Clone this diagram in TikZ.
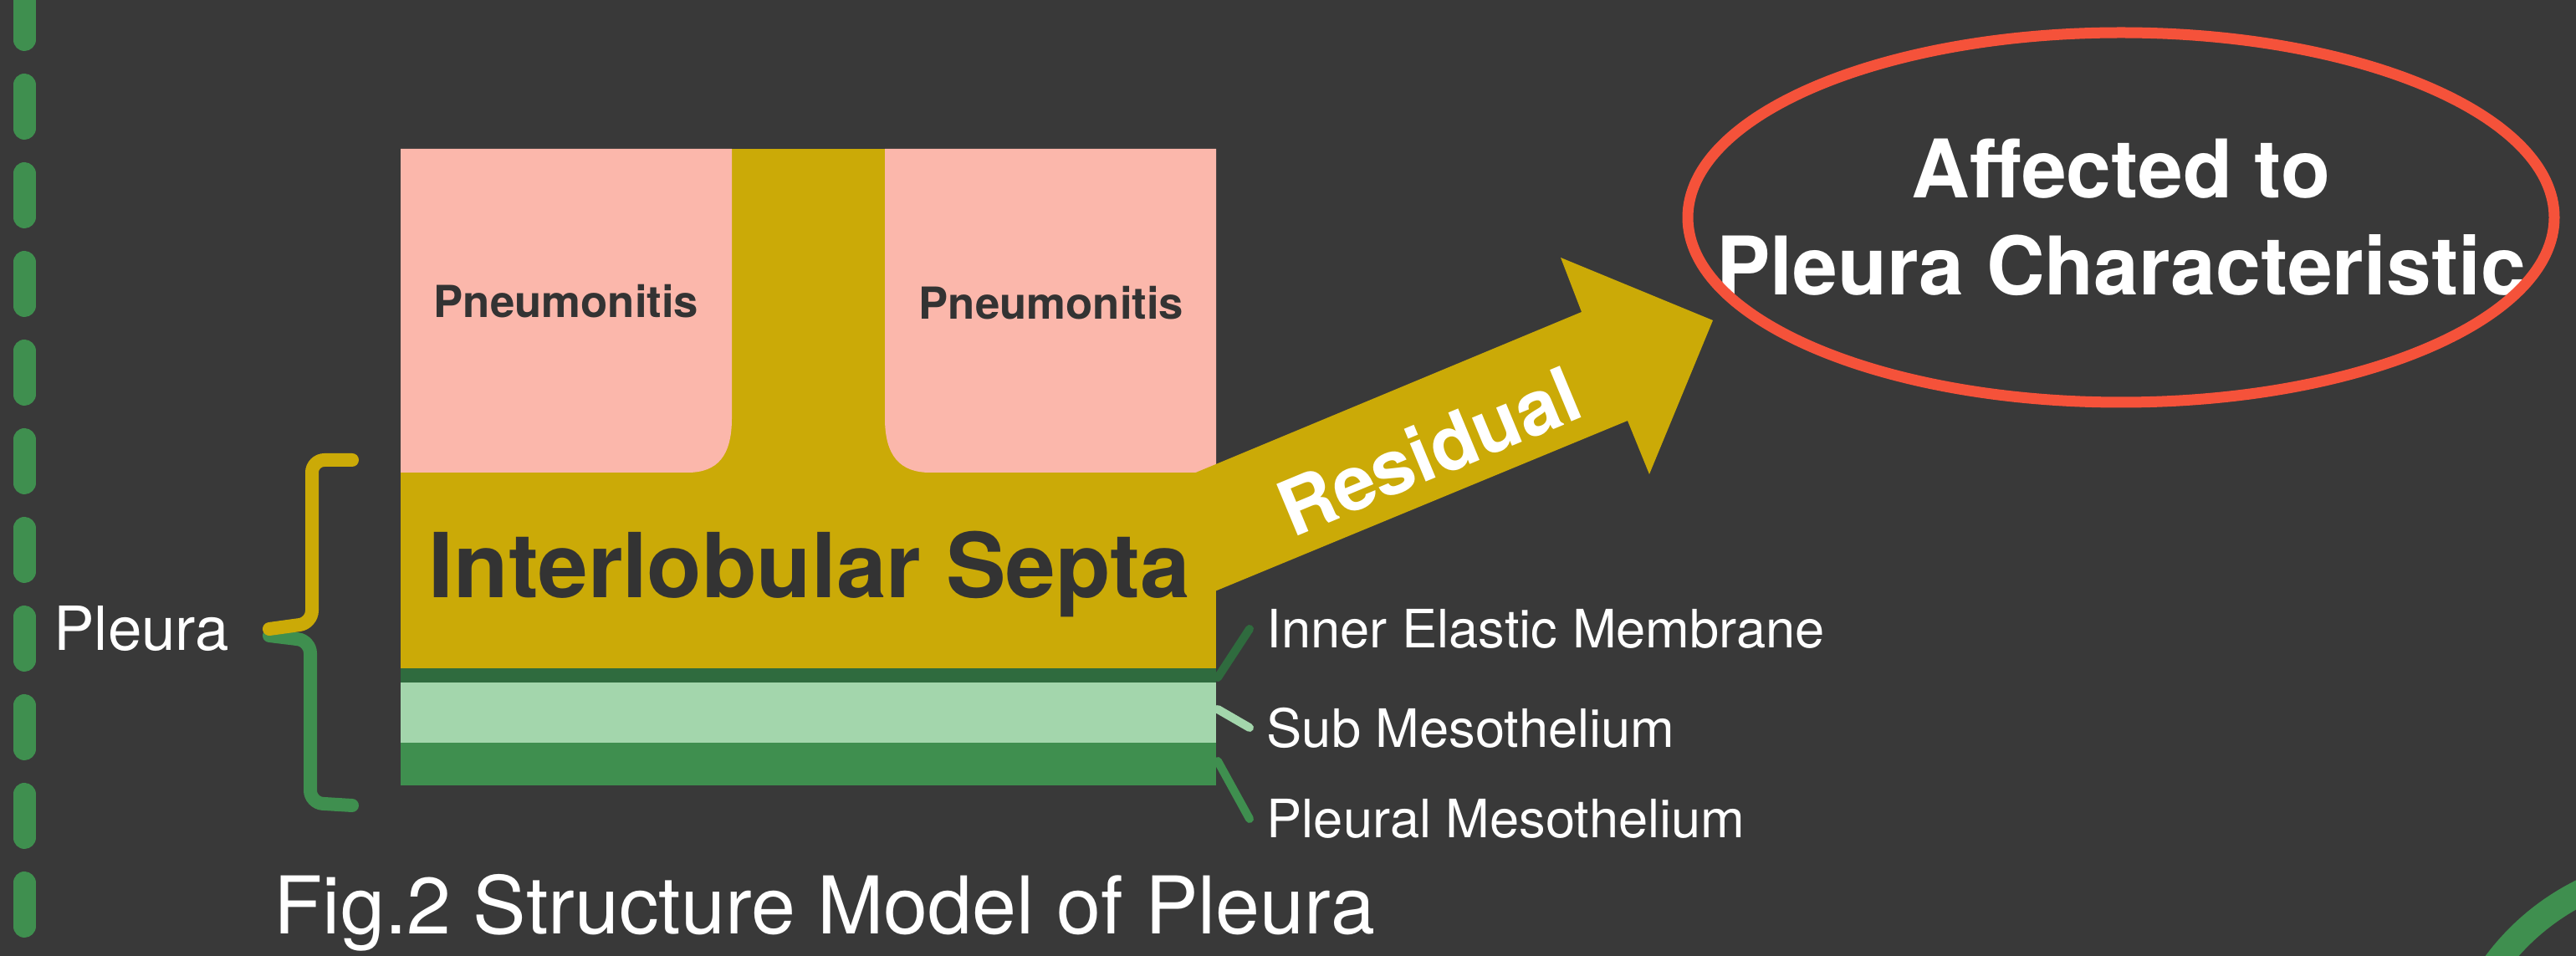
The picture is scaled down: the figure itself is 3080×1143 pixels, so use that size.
\documentclass[tikz,border=0pt]{standalone}
\usepackage{fontspec}
\setmainfont{TeX Gyre Heros}
\usetikzlibrary{positioning,calc}

\definecolor{board}{HTML}{393939}
\definecolor{lungpink}{HTML}{FBB7AB}
\definecolor{septagold}{HTML}{CBAA07}
\definecolor{elasticgreen}{HTML}{2F6B3E}
\definecolor{subgreen}{HTML}{A3D6AC}
\definecolor{mesogreen}{HTML}{3F8F4F}
\definecolor{ringred}{HTML}{F5523A}
\definecolor{inktext}{HTML}{333333}

\begin{document}
\begin{tikzpicture}[
    x=0.1mm, y=-0.1mm,
    lobe/.style={inner sep=0pt, text=inktext, font=\bfseries\fontsize{15pt}{18pt}\selectfont},
    chalk/.style={inner sep=0pt, text=white},
    layertext/.style={anchor=west, inner xsep=2mm, inner ysep=0pt, text=white, font=\fontsize{18pt}{21pt}\selectfont},
    lead/.style={line width=1mm, line cap=round},
    brace/.style={line width=1.6mm, line cap=round, rounded corners=1.5mm}
]

    \useasboundingbox (0,0) rectangle (3080,1143);
    \clip (0,0) rectangle (3080,1143);
    \fill[board] (0,0) rectangle (3080,1143);

    \draw[mesogreen, line width=2.7mm, line cap=round, dash pattern=on 5.2mm off 5.4mm] (29,-4.5) -- (29,1160);
    \draw[mesogreen, line width=3.1mm] (3213,1322) circle [radius=28.5mm];


    \fill[septagold] (479,178) rectangle (1454,799);
    \fill[lungpink] (479,178) -- (875,178) -- (875,500) .. controls (875,545) and (858,565) .. (822,565) -- (479,565) -- cycle;
    \fill[lungpink] (1058,178) -- (1454,178) -- (1454,565) -- (1112,565) .. controls (1076,565) and (1058,545) .. (1058,500) -- cycle;

    \coordinate (tip) at (2048,383);
    \fill[septagold] (1300,619) -- (1891,373) -- (1866,308) -- (tip) -- (1972,567) -- (1946,503) -- (1300,770) -- cycle;

    \fill[elasticgreen] (479,799) rectangle (1454,816);
    \fill[subgreen]     (479,816) rectangle (1454,888);
    \fill[mesogreen]    (479,888) rectangle (1454,939);


    \node[lobe, anchor=base] (lobeL) at (677,380) {Pneumonitis};
    \node[lobe, anchor=base] (lobeR) at (1257,382) {Pneumonitis};
    \node[lobe, anchor=base, font=\bfseries\fontsize{30.5pt}{36pt}\selectfont] (septa) at (968,715) {Interlobular Septa};
    \node[chalk, rotate=22.6, font=\bfseries\fontsize{26pt}{30pt}\selectfont] (residual) at (1708,539) {Residual};

    \node[chalk, align=center, font=\bfseries\fontsize{27.5pt}{33pt}\selectfont] (affected) at (2536,260) {Affected to\\Pleura Characteristic};
    \draw[ringred, line width=1.3mm] (affected.center) ellipse [x radius=51.8mm, y radius=22.1mm];


    \draw[brace, mesogreen] (322,760) -- (371,766) -- (371,960) -- (421,963);
    \draw[brace, septagold] (421,550) -- (373,550) -- (373,745) -- (322,752);
    \coordinate (braceTip) at (318,752);
    \node[chalk, font=\fontsize{20.7pt}{24pt}\selectfont, left=4.3mm of braceTip] (pleura) {Pleura};


    \coordinate (elasticEnd) at (1456,810);
    \coordinate (subEnd)     at (1456,848);
    \coordinate (mesoEnd)    at (1456,910);

    \node[layertext] (elastic) at (1494,752) {Inner Elastic Membrane};
    \node[layertext] (sub)     at (1494,870) {Sub Mesothelium};
    \node[layertext] (meso)    at (1494,979) {Pleural Mesothelium};

    \draw[lead, elasticgreen] (elasticEnd) -- (elastic.west);
    \draw[lead, subgreen]     (subEnd) -- (sub.west);
    \draw[lead, mesogreen]    (mesoEnd) -- (meso.west);

    \node[chalk, anchor=base west, font=\fontsize{27.1pt}{32pt}\selectfont] (caption) at (327,1117) {Fig.2 Structure Model of Pleura};

\end{tikzpicture}
\end{document}
